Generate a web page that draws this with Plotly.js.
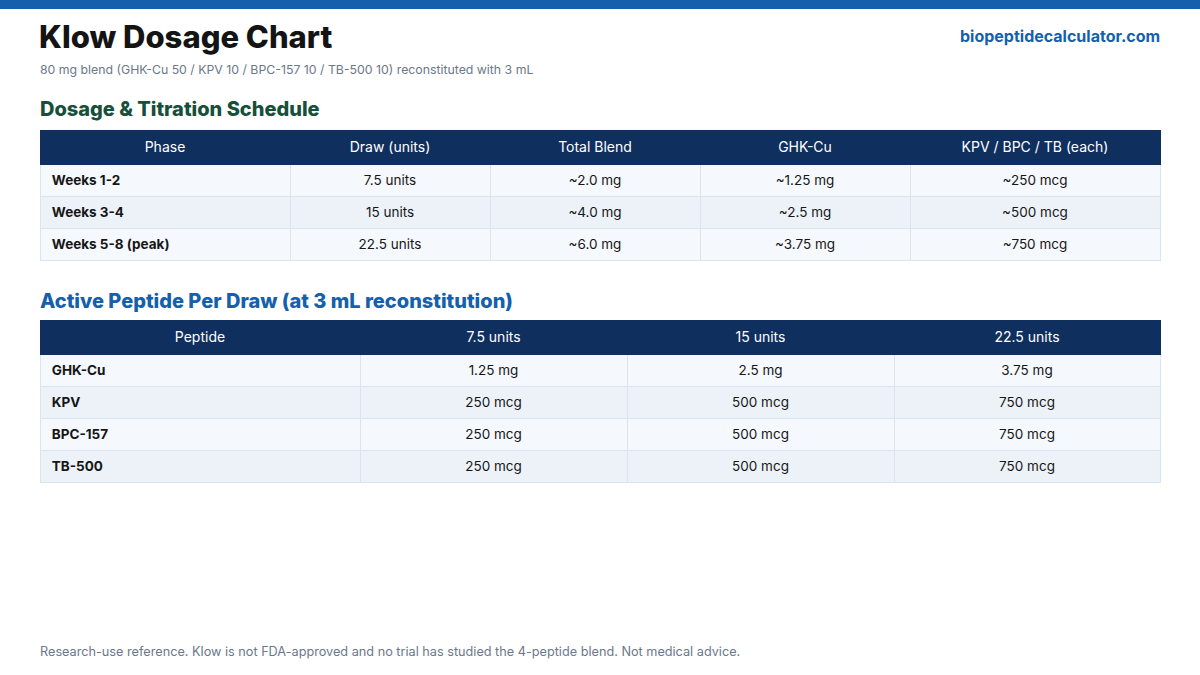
<!DOCTYPE html>
<html>
<head>
<meta charset="utf-8">
<script src="https://cdn.plot.ly/plotly-3.0.1.min.js"></script>
<style>
  html, body { margin: 0; padding: 0; background: #fff; }
  #chart { width: 1200px; height: 675px; }
</style>
</head>
<body>
<div id="chart"></div>
<script>
// Dosage & titration schedule
const phases = ["Weeks 1-2", "Weeks 3-4", "Weeks 5-8 (peak)"];
const drawUnits = ["7.5 units", "15 units", "22.5 units"];
const totalBlend = ["~2.0 mg", "~4.0 mg", "~6.0 mg"];
const ghkCuDose = ["~1.25 mg", "~2.5 mg", "~3.75 mg"];
const eachDose = ["~250 mcg", "~500 mcg", "~750 mcg"];
const scheduleHeaders = ["Phase", "Draw (units)", "Total Blend", "GHK-Cu", "KPV / BPC / TB (each)"];

// Active peptide per draw
const peptides = ["GHK-Cu", "KPV", "BPC-157", "TB-500"];
const at75 = ["1.25 mg", "250 mcg", "250 mcg", "250 mcg"];
const at15 = ["2.5 mg", "500 mcg", "500 mcg", "500 mcg"];
const at225 = ["3.75 mg", "750 mcg", "750 mcg", "750 mcg"];
const peptideHeaders = ["Peptide", "7.5 units", "15 units", "22.5 units"];

const W = 1200, H = 675;
const FONT = "Inter, 'Open Sans', sans-serif";
const NAVY = "#0f2f5e";
const LINE = "#dbe3ee";
const ROW_A = "#f5f8fd", ROW_B = "#edf2f9";

const px = x => x / W;
const py = y => 1 - y / H;

function rowFills(n, cols) {
  const c = [];
  for (let i = 0; i < n; i++) c.push(i % 2 ? ROW_B : ROW_A);
  return Array(cols).fill(c);
}

const bold = arr => arr.map(s => " <b>" + s + "</b>");
const plain = arr => arr.map(s => "<span>" + s + "</span>");

const schedule = {
  type: "table",
  domain: { x: [px(40), px(1160)], y: [py(300), py(130)] },
  columnwidth: [250, 200, 210, 210, 250],
  header: {
    values: plain(scheduleHeaders),
    align: "center",
    height: 34,
    fill: { color: NAVY },
    line: { color: NAVY, width: 1 },
    font: { family: FONT, size: 14, color: "#ffffff" }
  },
  cells: {
    values: [bold(phases), plain(drawUnits), plain(totalBlend), plain(ghkCuDose), plain(eachDose)],
    align: ["left", "center", "center", "center", "center"],
    height: 32,
    fill: { color: rowFills(phases.length, 5) },
    line: { color: LINE, width: 1 },
    font: { family: FONT, size: 13.5, color: "#161616" }
  }
};

const perDraw = {
  type: "table",
  domain: { x: [px(40), px(1160)], y: [py(520), py(320)] },
  columnwidth: [320, 267, 267, 266],
  header: {
    values: plain(peptideHeaders),
    align: "center",
    height: 34,
    fill: { color: NAVY },
    line: { color: NAVY, width: 1 },
    font: { family: FONT, size: 14, color: "#ffffff" }
  },
  cells: {
    values: [bold(peptides), plain(at75), plain(at15), plain(at225)],
    align: ["left", "center", "center", "center"],
    height: 32,
    fill: { color: rowFills(peptides.length, 4) },
    line: { color: LINE, width: 1 },
    font: { family: FONT, size: 13.5, color: "#161616" }
  }
};

const txt = (x, y, text, size, color, anchor, weight) => ({
  xref: "paper", yref: "paper", x: px(x), y: py(y),
  xanchor: anchor || "left", yanchor: "middle",
  text: text, showarrow: false,
  font: { family: FONT, size: size, color: color, weight: weight || 400 }
});

const layout = {
  width: W, height: H,
  margin: { l: 0, r: 0, t: 0, b: 0 },
  paper_bgcolor: "#ffffff",
  showlegend: false,
  shapes: [
    { type: "rect", xref: "paper", yref: "paper", x0: 0, x1: 1, y0: py(9), y1: 1,
      fillcolor: "#1560ac", line: { width: 0 } }
  ],
  annotations: [
    txt(37, 36, "Klow Dosage Chart", 31, "#141414", "left", 800),
    txt(38, 69, "80 mg blend (GHK-Cu 50 / KPV 10 / BPC-157 10 / TB-500 10) reconstituted with 3 mL", 12.3, "#6b788a"),
    txt(1162, 36, "biopeptidecalculator.com", 16, "#1560ac", "right", 700),
    txt(38, 109, "Dosage &amp; Titration Schedule", 20, "#17503a", "left", 800),
    txt(38, 301, "Active Peptide Per Draw (at 3 mL reconstitution)", 20, "#1560ac", "left", 800),
    txt(38, 651, "Research-use reference. Klow is not FDA-approved and no trial has studied the 4-peptide blend. Not medical advice.", 12.7, "#6b788a")
  ]
};

Plotly.newPlot("chart", [schedule, perDraw], layout, { staticPlot: true, displayModeBar: false });
</script>
</body>
</html>
